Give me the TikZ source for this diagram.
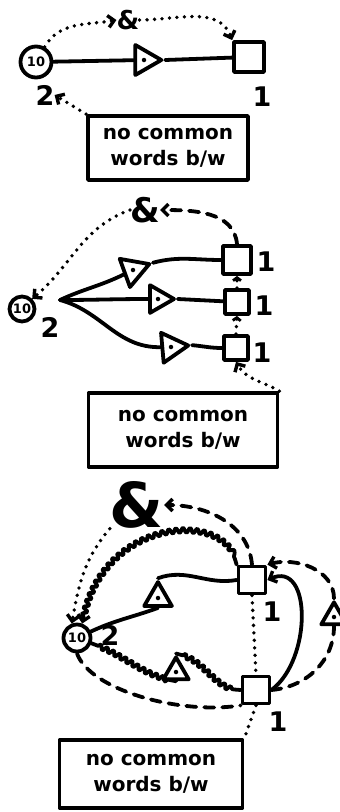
\documentclass[tikz,border=0pt]{standalone}
\usepackage{fontspec}
\setmainfont{DejaVu Sans}
\usetikzlibrary{arrows.meta,shapes.geometric,decorations.pathmorphing}
\begin{document}
\begin{tikzpicture}[x=1pt,y=-1pt,
  every node/.style={inner sep=0pt},
  ln/.style={line width=3.8pt,line cap=round,line join=round},
  tipb/.style={-{Straight Barb[length=6pt,width=12pt,line width=3.4pt]}},
  dotl/.style={ln,dash pattern=on 0pt off 7.5pt},
  dashl/.style={ln,dash pattern=on 10pt off 8pt},
  wavy/.style={ln,decorate,decoration={snake,amplitude=2.4pt,segment length=7pt,pre length=7pt,post length=6pt}},
  circ/.style={circle,draw,ln,minimum size=#1,font=\fontsize{13}{13}\selectfont\bfseries},
  sq/.style={rectangle,draw,ln,minimum width=#1,minimum height=#1},
  tri/.style={isosceles triangle,isosceles triangle apex angle=60,draw,ln,minimum height=#1,shape border rotate=0},
  box/.style={rectangle,draw,ln,align=center,font=\fontsize{20}{26}\selectfont\bfseries},
  num/.style={font=\fontsize{27}{27}\selectfont\bfseries},
  dotc/.style={circle,fill,minimum size=4.5pt}
]
\useasboundingbox (0,0) rectangle (340,812);
% ---------------- panel 1
\node[circ=31pt] (c1) at (36,62) {10};
\node[tri=26pt] (t1) at (144,60) {};
\node[dotc] at (t1.center) {};
\node[sq=30pt] (s1) at (249,57) {};
\draw[ln] (c1) -- (t1);
\draw[ln] (t1.apex) -- (s1);
\node[num] (l1two) at (45,95) {2};
\node[num] (l1one) at (262,97) {1};
\node[font=\fontsize{26}{26}\selectfont\bfseries] (amp1) at (128,20) {\&};
\draw[dotl,tipb] (c1.60) to[out=60,in=190] (amp1.west);
\draw[dotl,tipb] (amp1.east) to[out=0,in=110] (s1.north west);
\node[box,minimum width=160pt,minimum height=64pt] (b1) at (168,148) {no common\\words b/w};
\draw[dotl,tipb] (b1.north west) -- (l1two.east);
% ---------------- panel 2
\node[circ=25pt] (c2) at (22,309) {10};
\node[num] (l2two) at (50,327) {2};
\coordinate (fan) at (60,300);
\node[tri=26pt,rotate=20] (t2a) at (133,270) {};
\node[tri=24pt] (t2b) at (158,299) {};
\node[tri=26pt,rotate=5] (t2c) at (171,347) {};
\foreach \t in {t2a,t2b,t2c} \node[dotc] at (\t.center) {};
\node[sq=28pt] (s2a) at (237,260) {};
\node[sq=24pt] (s2b) at (237,302) {};
\node[sq=24pt] (s2c) at (236,348) {};
\node[num] (l2a) at (266,262) {1};
\node[num] (l2b) at (264,306) {1};
\node[num] (l2c) at (262,353) {1};
\draw[ln] (fan) to[out=25,in=200] (t2a);
\draw[ln] (t2a.apex) to[out=15,in=180] (s2a);
\draw[ln] (fan) to[out=0,in=180] (t2b);
\draw[ln] (t2b.apex) -- (s2b);
\draw[ln] (fan) to[out=-15,in=180] (t2c);
\draw[ln] (t2c.apex) to[out=-5,in=180] (s2c);
\draw[dotl,-{Straight Barb[length=3pt,width=8pt,line width=2.8pt]}] (s2b.north) -- (s2a.south);
\draw[dotl,-{Straight Barb[length=3pt,width=8pt,line width=2.8pt]}] (s2c.north) -- (s2b.south);
\node[font=\fontsize{34}{34}\selectfont\bfseries] (amp2) at (145,210) {\&};
\draw[dashl,tipb] (s2a.north) to[out=95,in=0] (amp2.east);
\draw[dotl,tipb] (amp2.west) to[out=200,in=40] (c2.north east);
\node[box,minimum width=189pt,minimum height=74pt] (b2) at (183,430) {no common\\words b/w};
\draw[dotl,tipb] (b2.north east) to[out=150,in=-60] (s2c.south);
% ---------------- panel 3
\node[font=\fontsize{62}{62}\selectfont\bfseries] (amp3) at (137,505) {\&};
\node[circ=27pt] (c3) at (77,638) {10};
\node[num] (l3two) at (110,635) {2};
\node[sq=27pt] (s3a) at (252,580) {};
\node[sq=27pt] (s3b) at (256,690) {};
\node[num] (l3a) at (272,612) {1};
\node[num] (l3b) at (278,722) {1};
\node[tri=24pt,rotate=90] (t3a) at (158,598) {};
\node[tri=22pt,rotate=90] (t3b) at (176,672) {};
\node[tri=22pt,rotate=90] (t3c) at (334,617) {};
\foreach \t in {t3a,t3b,t3c} \node[dotc] at (\t.center) {};
\draw[ln] (s3a.west) to[out=190,in=20] (t3a.east);
\draw[ln] (t3a.west) to[out=200,in=25] (c3.25);
\draw[wavy] (c3.-20) to[out=-20,in=170] (t3b.west);
\draw[wavy] (t3b.east) to[out=-10,in=180] (s3b.west);
\draw[wavy,{Straight Barb[length=6pt,width=12pt,line width=3.4pt]}-] (c3.70) .. controls (100,520) and (225,510) .. (s3a.north west);
\draw[dotl,tipb] (amp3.south west) to[out=230,in=80] (c3.110);
\draw[dashl,tipb] (s3a.north) to[out=95,in=0] (amp3.east);
\draw[dotl] (s3a.south) -- (s3b.north);
\draw[ln,tipb] (s3b.east) .. controls (312,660) and (312,560) .. (s3a.east);
\draw[dashl] (s3b.east) to[out=5,in=-90] (t3c.west);
\draw[dashl,tipb] (t3c.east) to[out=90,in=15] (s3a.north east);
\draw[dashl] (c3.south) .. controls (90,690) and (180,715) .. (s3b.south west);
\node[box,minimum width=183pt,minimum height=68pt] (b3) at (151,774) {no common\\words b/w};
\draw[dotl] (s3b.south) -- (b3.north east);
\end{tikzpicture}
\end{document}
